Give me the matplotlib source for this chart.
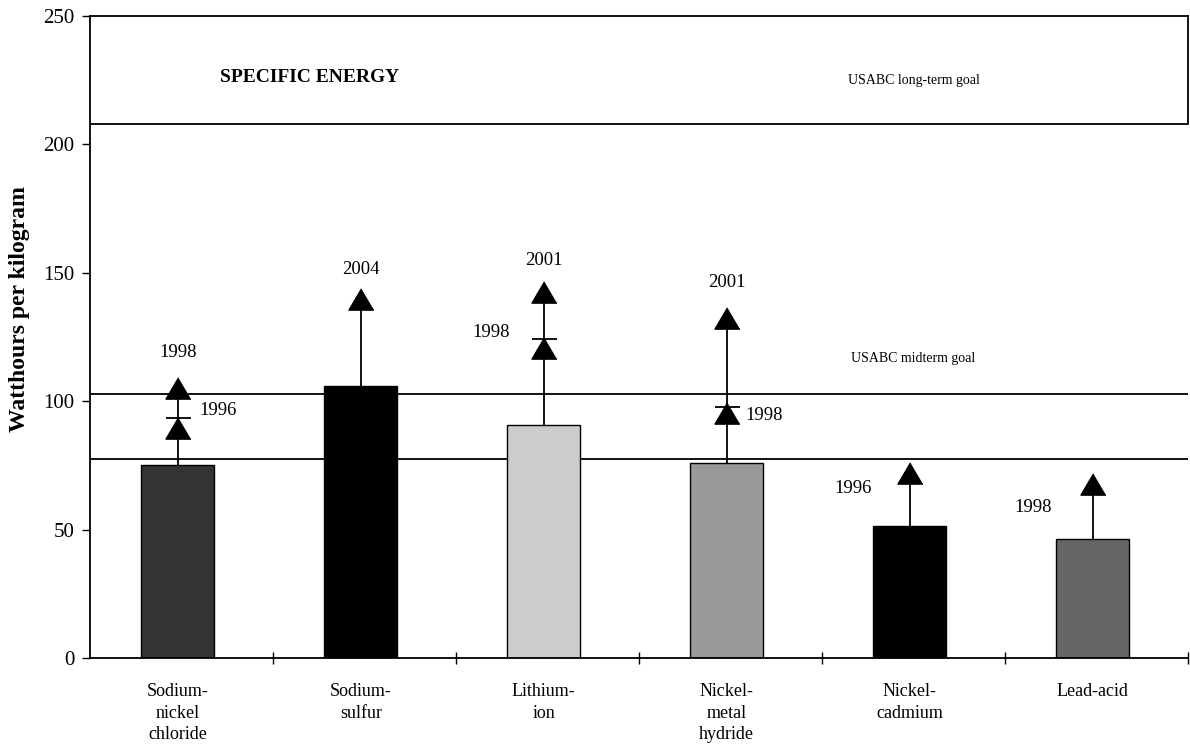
import numpy as np
import matplotlib
matplotlib.use("Agg")
import matplotlib.pyplot as plt

# donnees
categories = ["Sodium-\nnickel\nchloride", "Sodium-\nsulfur", "Lithium-\nion",
              "Nickel-\nmetal\nhydride", "Nickel-\ncadmium", "Lead-acid"]
energie_actuelle = [75.2, 106.0, 90.7, 75.8, 51.5, 46.2]
objectif_final = [105.0, 139.8, 142.7, 132.4, 72.0, 67.8]
annee_finale = ["1998", "2004", "2001", "2001", "1996", "1998"]
objectif_inter = [89.5, np.nan, 120.7, 95.4, np.nan, np.nan]
repere_inter = [93.6, np.nan, 124.3, 97.9, np.nan, np.nan]
annee_inter = ["1996", "", "1998", "1998", "", ""]
usabc_long_terme = 208
usabc_mi_terme = [77.4, 102.8]

couleurs = ["#333333", "#000000", "#cccccc", "#999999", "#000000", "#666666"]
# decalages des etiquettes (pixels)
decal_final = [(0, 36), (0, 29), (0, 31), (0, 35), (-57, -15), (-60, -24)]
decal_inter = [(40, 18), None, (-53, 16), (37, -2), None, None]

plt.rcParams["font.family"] = ["Liberation Serif", "DejaVu Serif"]

fig = plt.figure(figsize=(11.9, 7.45), dpi=100)
ax = fig.add_axes([0.0756, 0.1168, 0.9227, 0.8617])

x = np.arange(len(categories)) - 0.02

# lignes des objectifs USABC
ax.axhline(usabc_long_terme, color="black", lw=1.3, zorder=1)
for v in usabc_mi_terme:
    ax.axhline(v, color="black", lw=1.3, zorder=1)

# barres
ax.bar(x, energie_actuelle, width=0.4, color=couleurs, edgecolor="black", lw=1.0, zorder=2)

# fleches vers les objectifs
ax.vlines(x, energie_actuelle, objectif_final, color="black", lw=1.3, zorder=3)
tri = [(0, 0.85), (-1, -0.85), (1, -0.85)]
ax.plot(x, objectif_final, ls="none", marker=tri, ms=18, color="black", zorder=4)
ax.plot(x, objectif_inter, ls="none", marker=tri, ms=18, color="black", zorder=4)
ax.plot(x, repere_inter, ls="none", marker="_", ms=18, mew=1.3, color="black", zorder=4)

for i in range(len(x)):
    ax.annotate(annee_finale[i], (x[i], objectif_final[i]), xytext=decal_final[i],
                textcoords="offset pixels", ha="center", va="center", fontsize=13.5)
    if decal_inter[i] is not None:
        ax.annotate(annee_inter[i], (x[i], objectif_inter[i]), xytext=decal_inter[i],
                    textcoords="offset pixels", ha="center", va="center", fontsize=13.5)

ax.text(0.7, 226, "SPECIFIC ENERGY", fontsize=14, fontweight="bold", ha="center", va="center")
ax.text(4.0, 225, "USABC long-term goal", fontsize=10, ha="center", va="center")
ax.text(4.0, 116.5, "USABC midterm goal", fontsize=10, ha="center", va="center")

# axes
ax.set_xlim(-0.5, 5.5)
ax.set_ylim(0, 250)
ax.set_yticks(np.arange(0, 251, 50))
ax.tick_params(axis="y", direction="out", length=6, width=1, labelsize=15, pad=5)
ax.set_xticks(x)
ax.set_xticklabels(categories, fontsize=13, linespacing=1.35, va="top")
ax.set_xticks(np.arange(0.5, 5.6, 1), minor=True)
ax.tick_params(axis="x", which="major", length=0, pad=18)
ax.tick_params(axis="x", which="minor", direction="inout", length=8, width=1)
for s in ["left", "bottom", "top", "right"]:
    ax.spines[s].set_linewidth(1.3)
ax.spines["right"].set_bounds(usabc_long_terme, 250)

fig.text(0.016, 0.585, "Watthours per kilogram", rotation=90, fontsize=17,
         fontweight="bold", ha="center", va="center")

plt.savefig("out.png", dpi=100)
